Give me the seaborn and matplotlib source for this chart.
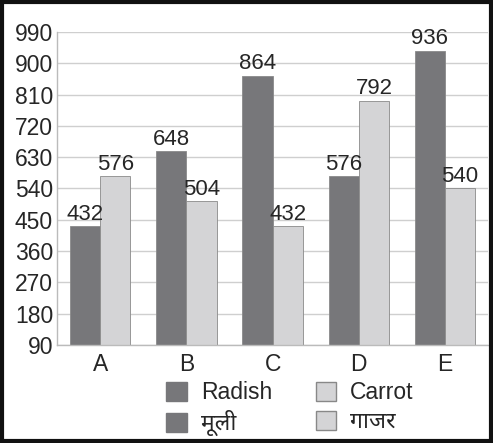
import pandas as pd
import matplotlib.pyplot as plt
import seaborn as sns
from matplotlib.patches import Patch, Rectangle
from matplotlib.ticker import FixedLocator

# data
categories = ['A', 'B', 'C', 'D', 'E']
radish = [432, 648, 864, 576, 936]
carrot = [576, 504, 432, 792, 540]
y_ticks = [90, 180, 270, 360, 450, 540, 630, 720, 810, 900, 990]

df = pd.DataFrame({
    'category': categories * 2,
    'value': radish + carrot,
    'crop': ['Radish'] * 5 + ['Carrot'] * 5,
})

sns.set_style('white')
plt.rcParams['font.family'] = ['Liberation Sans', 'Noto Sans Devanagari', 'Noto Sans', 'DejaVu Sans']

dark, light = '#77777a', '#d4d4d6'

fig = plt.figure(figsize=(4.93, 4.43), dpi=100)
ax = fig.add_axes([0.116, 0.221, 0.874, 0.707])

sns.barplot(data=df, x='category', y='value', hue='crop',
            palette=[dark, light], width=0.7, edgecolor='#8a8a8a',
            linewidth=0.6, legend=False, ax=ax)

for cont in ax.containers:
    ax.bar_label(cont, fontsize=16, padding=1)

ax.set_ylim(90, 990)
ax.set_yticks(y_ticks)
ax.set_xlim(-0.5, 4.5)
ax.yaxis.grid(True, color='#cfcfcf', linewidth=1)
ax.set_axisbelow(True)
ax.set_xlabel('')
ax.set_ylabel('')
ax.tick_params(axis='y', labelsize=16.5, length=0, pad=3)
ax.tick_params(axis='x', which='major', labelsize=16.5, length=0, pad=6)
ax.xaxis.set_minor_locator(FixedLocator([-0.5, 0.5, 1.5, 2.5, 3.5, 4.5]))
ax.tick_params(axis='x', which='minor', length=5, color='#bbbbbb', width=1)
for s in ['top', 'right']:
    ax.spines[s].set_visible(False)
for s in ['left', 'bottom']:
    ax.spines[s].set_color('#bbbbbb')
    ax.spines[s].set_linewidth(1)

handles = [Patch(facecolor=dark, edgecolor=dark), Patch(facecolor=dark, edgecolor=dark),
           Patch(facecolor=light, edgecolor='#888888'), Patch(facecolor=light, edgecolor='#888888')]
labels = ['Radish', 'मूली', 'Carrot', 'गाजर']
fig.legend(handles, labels, ncol=2, loc='center', bbox_to_anchor=(0.588, 0.077),
           frameon=False, fontsize=16.5, handlelength=0.9, handleheight=0.9,
           columnspacing=1.9, labelspacing=0.25, handletextpad=0.6)

fig.patches.append(Rectangle((0.004, 0.005), 0.992, 0.99, transform=fig.transFigure,
                             fill=False, edgecolor='#111111', linewidth=3))

fig.savefig('out.png', dpi=100)
